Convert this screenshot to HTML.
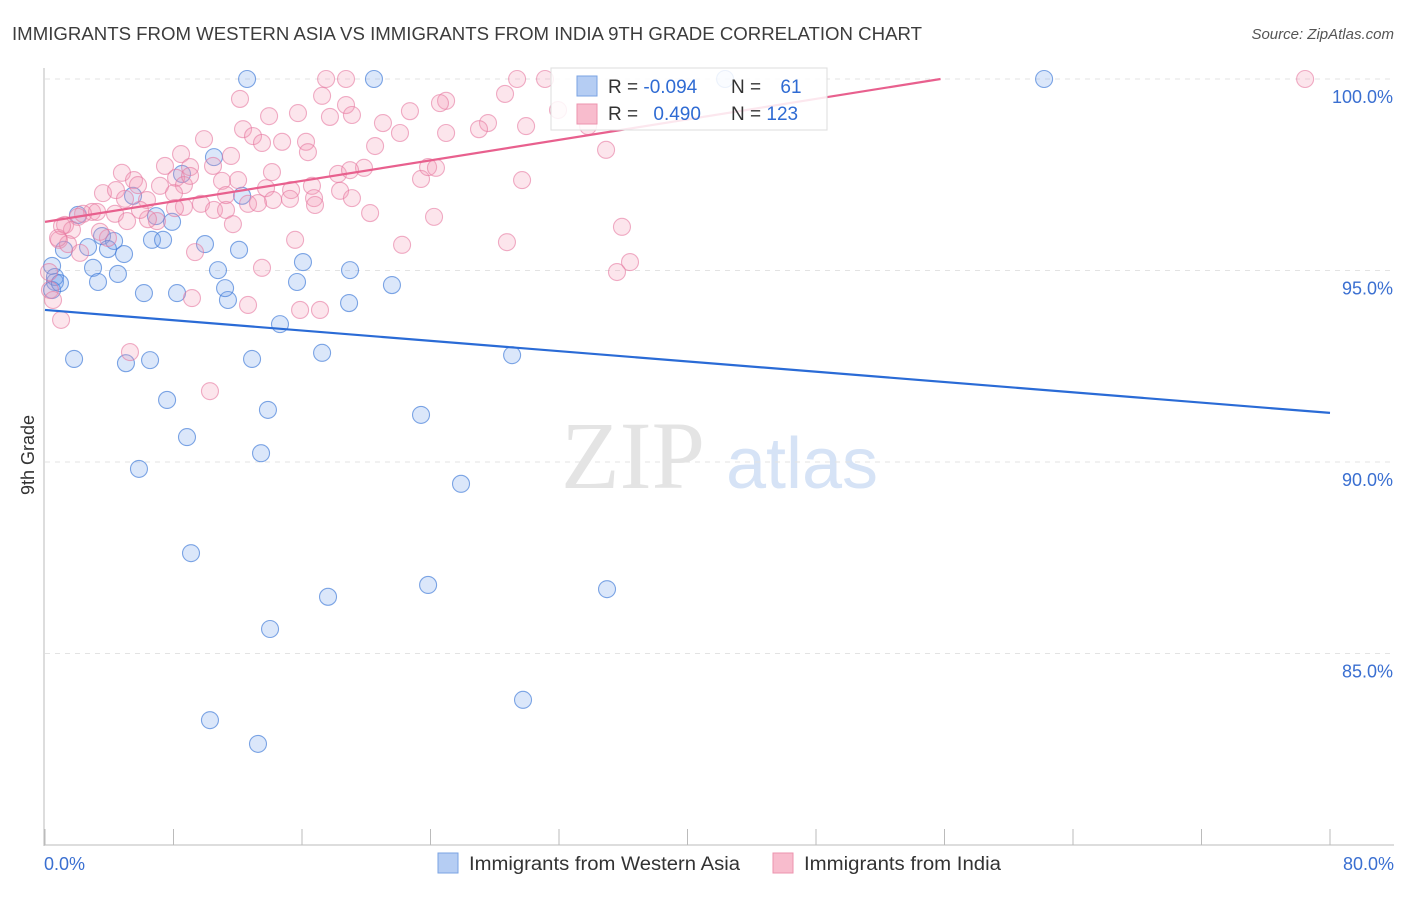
<!DOCTYPE html>
<html><head><meta charset="utf-8"><style>
body{margin:0;background:#fff;font-family:"Liberation Sans",sans-serif}
</style></head><body>
<svg id="chart" width="1406" height="892" xmlns="http://www.w3.org/2000/svg" font-family="Liberation Sans, sans-serif">
<text x="12" y="40" font-size="18" fill="#3c3c3c" textLength="910" lengthAdjust="spacingAndGlyphs">IMMIGRANTS FROM WESTERN ASIA VS IMMIGRANTS FROM INDIA 9TH GRADE CORRELATION CHART</text>
<text x="1394" y="39" font-size="15" fill="#555" font-style="italic" text-anchor="end">Source: ZipAtlas.com</text>
<g>
<text x="633" y="488" font-size="96" fill="#e4e4e4" font-family="Liberation Serif, serif" text-anchor="middle">ZIP</text>
<text x="802" y="488" font-size="72" fill="#d6e3f6" text-anchor="middle">atlas</text>
</g>
<g id="grid"></g>
<g id="axes"></g>
<g id="blue"></g>
<g id="pink"></g>
<g id="lines"></g>
<text transform="translate(34,455) rotate(-90)" font-size="18" fill="#333" text-anchor="middle">9th Grade</text>
<g>
<rect x="551" y="68" width="276" height="62" fill="#fff" fill-opacity="0.85" stroke="#ddd"/>
<rect x="577" y="76" width="20" height="20" fill="#b5cdf3" stroke="#7aa3e3"/>
<rect x="577" y="104" width="20" height="20" fill="#f8bccd" stroke="#ec93ae"/>
<text x="608" y="93" font-size="19" fill="#333">R = <tspan fill="#2f6bd3">-0.094</tspan></text>
<text x="731" y="93" font-size="19" fill="#333">N = <tspan fill="#2f6bd3" dx="14">61</tspan></text>
<text x="608" y="120" font-size="19" fill="#333">R = <tspan fill="#2f6bd3" dx="10">0.490</tspan></text>
<text x="731" y="120" font-size="19" fill="#333">N = <tspan fill="#2f6bd3">123</tspan></text>
</g>
<g>
<rect x="438" y="853" width="20" height="20" fill="#b5cdf3" stroke="#7aa3e3"/>
<text x="469" y="870" font-size="19" fill="#333" textLength="271" lengthAdjust="spacingAndGlyphs">Immigrants from Western Asia</text>
<rect x="773" y="853" width="20" height="20" fill="#f8bccd" stroke="#ec93ae"/>
<text x="804" y="870" font-size="19" fill="#333" textLength="197" lengthAdjust="spacingAndGlyphs">Immigrants from India</text>
</g>
</svg>
<script>
const yTicks=[100,95,90,85];
const yTickLabels=["100.0%","95.0%","90.0%","85.0%"];
const xTickVals=[0,8,16,24,32,40,48,56,64,72,80];
const xEndLabels=["0.0%","80.0%"];
const blueX=[12.58,20.48,42.34,62.2,10.52,8.53,5.48,12.27,6.91,7.91,2.05,3.55,4.30,2.68,3.92,1.18,4.92,6.66,7.35,9.96,12.08,16.06,0.44,2.99,4.54,10.77,18.99,3.30,0.62,15.69,21.60,6.16,8.22,11.39,11.21,18.93,14.63,17.25,1.81,5.04,6.54,12.89,29.08,7.60,13.88,23.41,8.84,13.45,5.85,25.90,9.09,23.85,34.99,17.62,14.01,29.76,10.27,13.26,0.62,0.44,0.93];
const blueY=[100,100,100,100,97.96,97.52,96.95,96.95,96.42,96.27,96.45,95.90,95.77,95.61,95.56,95.54,95.43,95.80,95.80,95.69,95.54,95.22,95.12,95.07,94.91,95.01,95.01,94.70,94.70,94.70,94.62,94.41,94.41,94.23,94.54,94.15,93.60,92.85,92.69,92.58,92.66,92.69,92.79,91.62,91.36,91.23,90.65,90.23,89.82,89.43,87.62,86.79,86.68,86.48,85.64,83.79,83.26,82.64,94.83,94.49,94.67];
const pinkX=[17.5,18.74,29.39,31.13,78.45,17.25,12.14,24.97,18.74,22.72,15.75,13.95,17.74,19.11,21.04,28.64,24.59,27.58,29.95,27.02,24.97,22.10,12.33,12.95,13.51,9.90,14.76,16.25,16.37,20.55,11.58,8.47,34.93,7.47,10.46,9.03,4.79,5.54,8.16,7.16,8.65,11.02,12.02,13.76,15.32,16.62,18.24,19.86,23.41,23.85,24.34,29.70,3.61,4.42,5.79,6.35,4.98,8.03,9.71,12.64,14.2,15.25,16.75,18.37,16.81,13.26,8.65,10.52,11.27,20.24,24.22,4.36,2.93,2.37,2.05,1.25,1.68,5.11,6.97,6.41,8.09,35.92,15.57,22.23,28.76,0.87,1.43,0.81,2.18,9.34,13.51,36.42,35.61,0.25,0.31,0.5,1.0,9.15,12.64,15.88,17.12,5.29,10.27,11.70,19.11,31.94,33.81,3.92,3.42,5.91,9.03,11.27,1.06,14.13,18.99,3.24];
const pinkY=[100,100,100,100,100,99.56,99.48,99.43,99.32,99.16,99.11,99.03,99.01,99.06,98.85,99.61,99.37,98.85,98.77,98.69,98.59,98.59,98.69,98.51,98.33,98.43,98.36,98.36,98.09,98.25,97.99,98.04,98.15,97.73,97.73,97.70,97.55,97.36,97.42,97.21,97.23,97.34,97.36,97.15,97.10,97.21,97.52,97.68,97.39,97.70,97.68,97.36,97.02,97.10,97.23,96.84,96.87,97.02,96.74,96.74,96.84,96.87,96.89,97.08,96.71,96.76,96.66,96.58,96.58,96.50,96.40,96.48,96.53,96.48,96.40,96.19,96.06,96.29,96.29,96.34,96.63,96.14,95.80,95.67,95.74,95.80,95.69,95.85,95.46,95.48,95.07,95.22,94.96,94.96,94.49,94.23,93.71,94.28,94.10,93.97,93.97,92.87,91.85,96.21,96.89,99.19,98.77,95.85,96.01,96.58,97.47,96.97,96.16,97.57,97.62,96.53];
const trendIntercept=[93.97,96.27];
const trendSlope=[-0.0336,0.0669];
const NS="http://www.w3.org/2000/svg";
const X=v=>45+v*(1285/80);
const Y=v=>79+(100-v)*(191.5/5);
function mk(tag,attrs,parent){const e=document.createElementNS(NS,tag);for(const k in attrs)e.setAttribute(k,attrs[k]);parent.appendChild(e);return e;}
const grid=document.getElementById('grid'),axes=document.getElementById('axes');
yTicks.forEach((t,i)=>{
 const l=mk('line',{x1:45,x2:1394,y1:Y(t),y2:Y(t),stroke:'#e3e3e3','stroke-dasharray':'5,5'},grid);
 
 
 const tx=mk('text',{x:1393,y:Y(t)+24,'font-size':18,fill:'#3a6fd1','text-anchor':'end'},axes);
 tx.textContent=yTickLabels[i];
 
 
});
const ya=mk('line',{x1:44,x2:44,y1:68,y2:846,stroke:'#bbb'},axes);


const xa=mk('line',{x1:44,x2:1394,y1:845,y2:845,stroke:'#bbb'},axes);


xTickVals.forEach(v=>{
 const t=mk('line',{x1:X(v),x2:X(v),y1:829,y2:845,stroke:'#bbb'},axes);
 
 
});
[[0,'start',44],[80,'end',1394]].forEach((d,i)=>{
 const t=mk('text',{x:d[2],y:870,'font-size':18,fill:'#3a6fd1','text-anchor':d[1]},axes);
 t.textContent=xEndLabels[i];
 
 
});
function dots(xs,ys,g,fill,stroke,name){xs.forEach((x,i)=>{
 const c=mk('circle',{cx:X(x),cy:Y(ys[i]),r:8.5,fill:fill,stroke:stroke,'stroke-width':1.1},g);
 
 
});}
dots(blueX,blueY,document.getElementById('blue'),'rgba(110,160,235,0.25)','rgba(60,120,215,0.65)','western-asia-point');
dots(pinkX,pinkY,document.getElementById('pink'),'rgba(245,150,180,0.25)','rgba(230,120,160,0.6)','india-point');
const lines=document.getElementById('lines');
const b=mk('line',{x1:X(0),y1:Y(trendIntercept[0]),x2:X(80),y2:Y(trendIntercept[0]+trendSlope[0]*80),stroke:'#2a6bd6','stroke-width':2.2},lines);


const xe=Math.min(80,(100-trendIntercept[1])/trendSlope[1]);
const p=mk('line',{x1:X(0),y1:Y(trendIntercept[1]),x2:X(xe),y2:Y(trendIntercept[1]+trendSlope[1]*xe),stroke:'#e8608e','stroke-width':2.2},lines);


</script>
</body></html>
